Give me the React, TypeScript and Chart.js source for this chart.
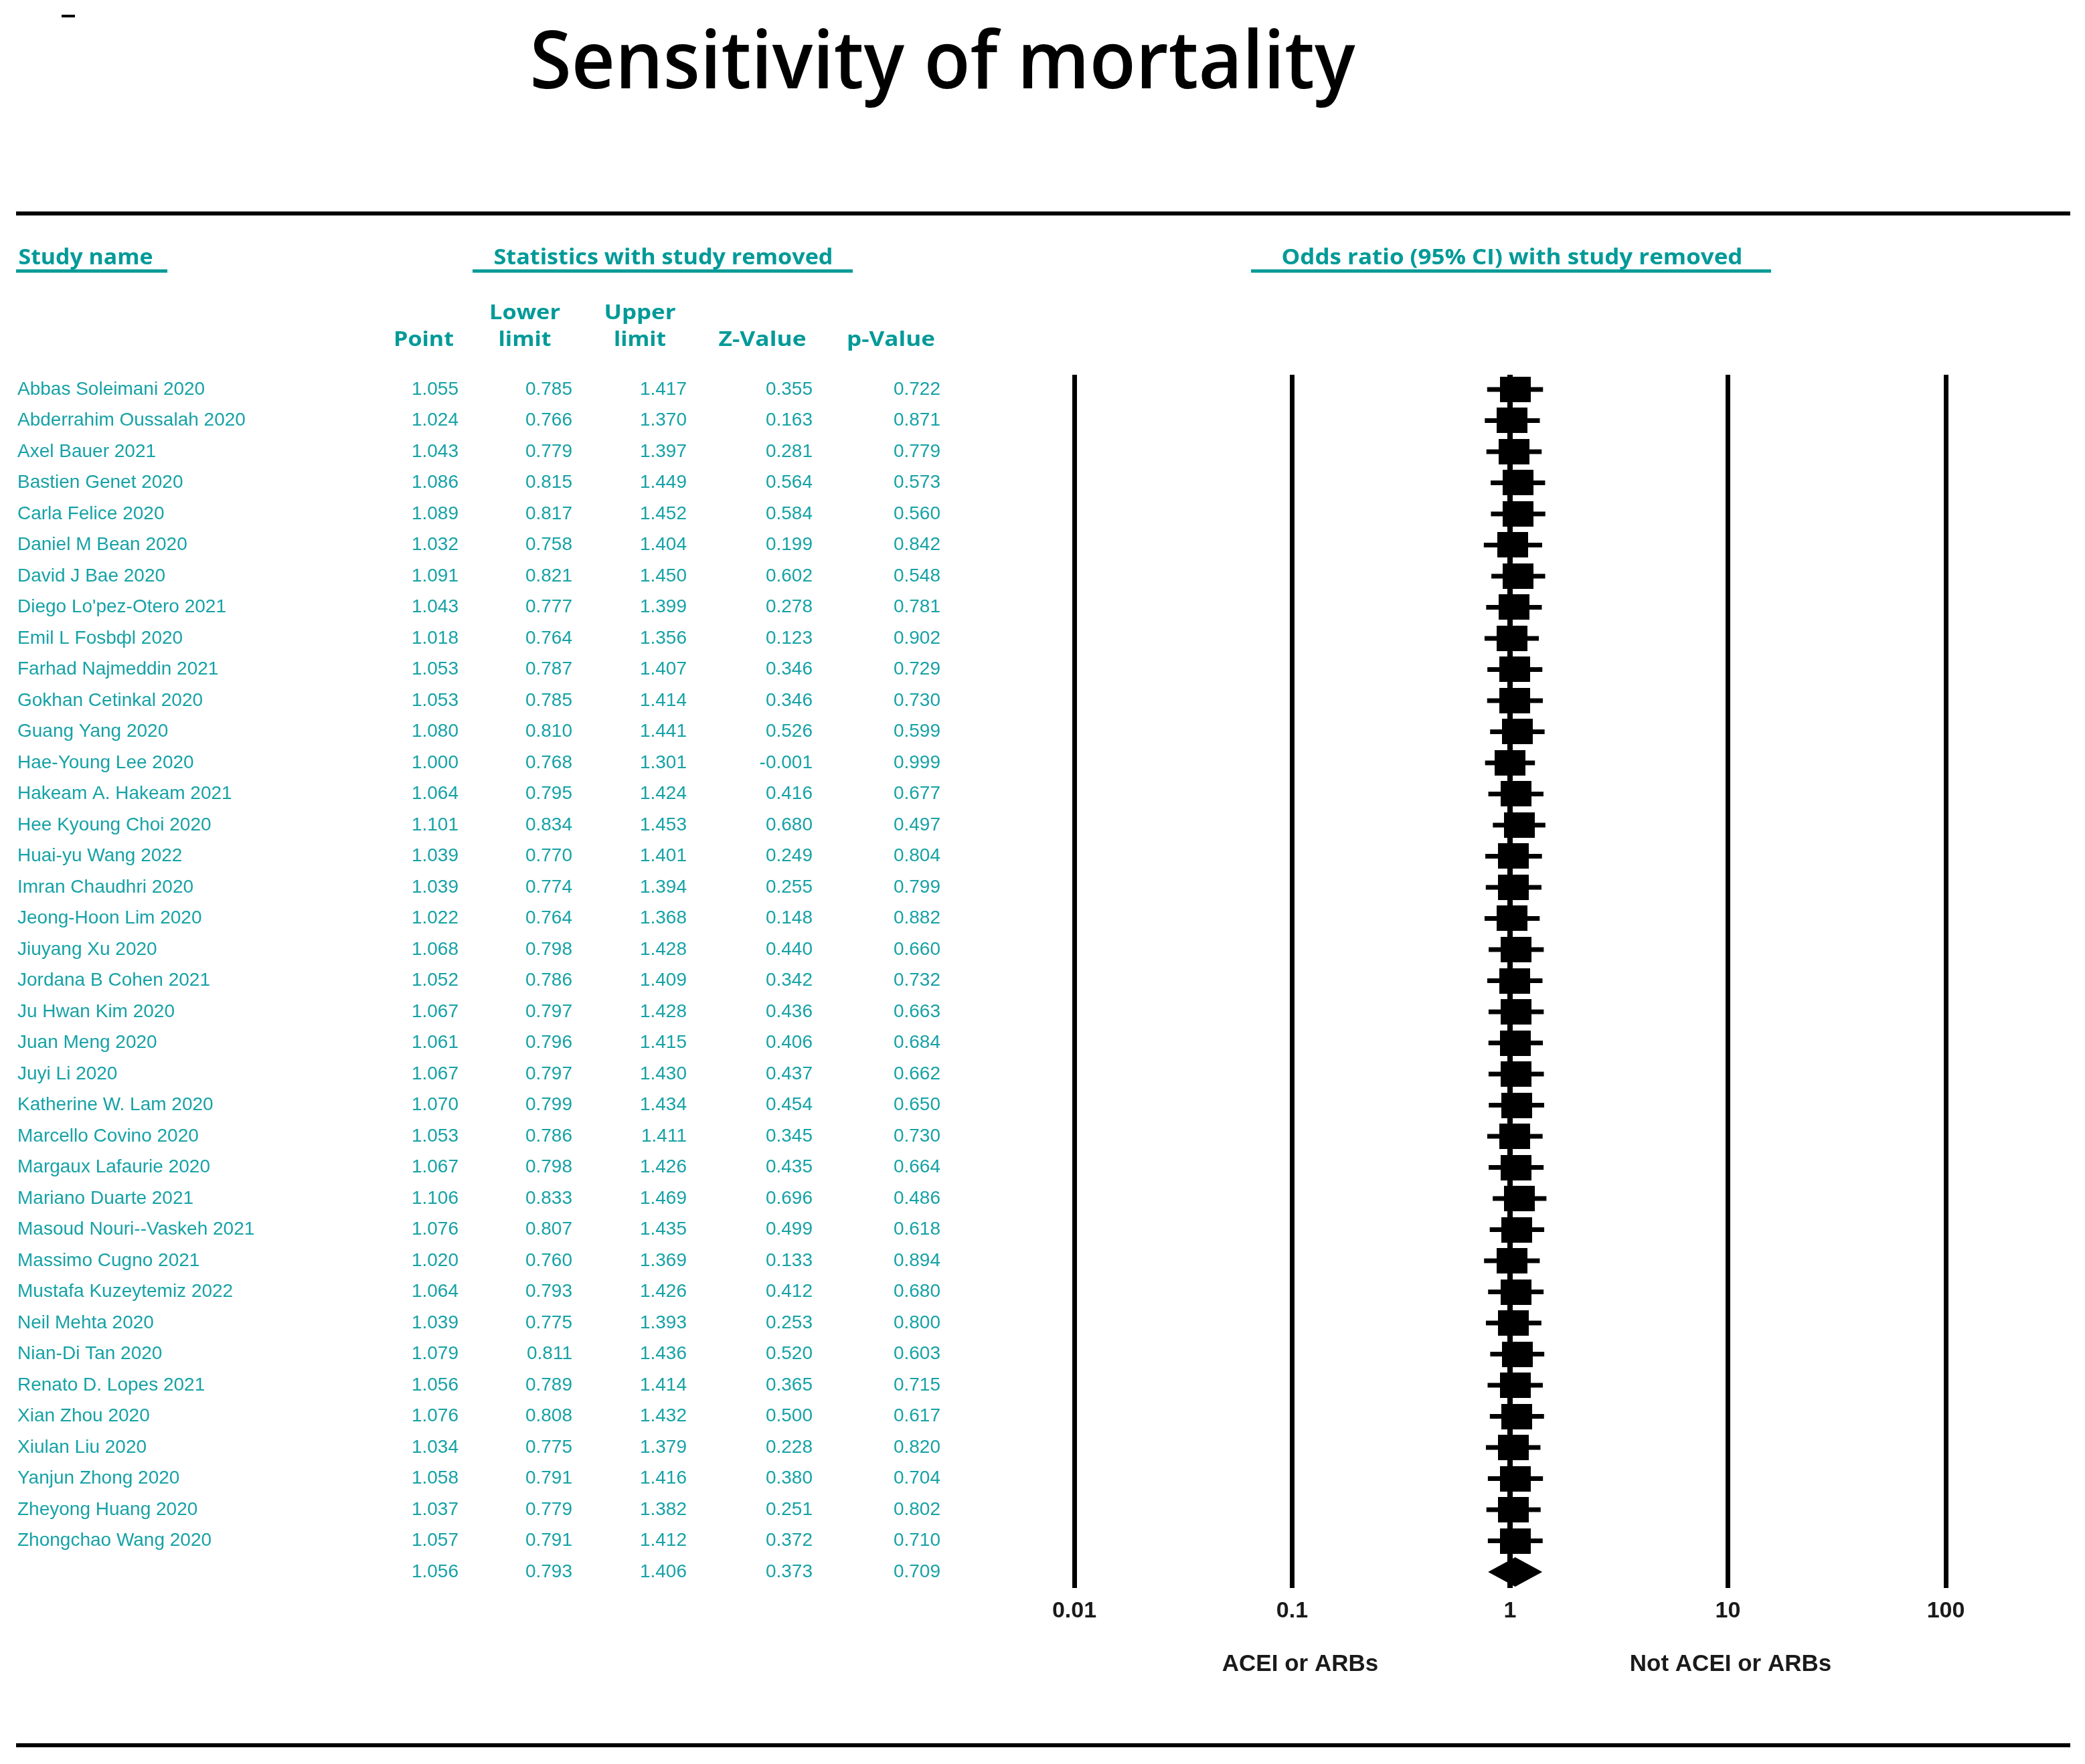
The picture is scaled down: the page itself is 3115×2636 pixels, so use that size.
import React, { useEffect, useRef } from "react";
import { Chart, registerables } from "chart.js";

Chart.register(...registerables);

const W = 3115;
const H = 2636;

const studyNames = [
  "Abbas Soleimani 2020",
  "Abderrahim Oussalah 2020",
  "Axel Bauer 2021",
  "Bastien Genet 2020",
  "Carla Felice 2020",
  "Daniel M Bean 2020",
  "David J Bae 2020",
  "Diego Lo'pez-Otero 2021",
  "Emil L Fosbфl 2020",
  "Farhad Najmeddin 2021",
  "Gokhan Cetinkal 2020",
  "Guang Yang 2020",
  "Hae-Young Lee 2020",
  "Hakeam A. Hakeam 2021",
  "Hee Kyoung Choi 2020",
  "Huai-yu Wang 2022",
  "Imran Chaudhri 2020",
  "Jeong-Hoon Lim 2020",
  "Jiuyang Xu 2020",
  "Jordana B Cohen 2021",
  "Ju Hwan Kim 2020",
  "Juan Meng 2020",
  "Juyi Li 2020",
  "Katherine W. Lam 2020",
  "Marcello Covino 2020",
  "Margaux Lafaurie 2020",
  "Mariano Duarte 2021",
  "Masoud Nouri--Vaskeh 2021",
  "Massimo Cugno 2021",
  "Mustafa Kuzeytemiz 2022",
  "Neil Mehta 2020",
  "Nian-Di Tan 2020",
  "Renato D. Lopes 2021",
  "Xian Zhou 2020",
  "Xiulan Liu 2020",
  "Yanjun Zhong 2020",
  "Zheyong Huang 2020",
  "Zhongchao Wang 2020",
];

const pointValues = [
  1.055, 1.024, 1.043, 1.086, 1.089, 1.032, 1.091, 1.043, 1.018, 1.053,
  1.053, 1.08, 1.0, 1.064, 1.101, 1.039, 1.039, 1.022, 1.068, 1.052,
  1.067, 1.061, 1.067, 1.07, 1.053, 1.067, 1.106, 1.076, 1.02, 1.064,
  1.039, 1.079, 1.056, 1.076, 1.034, 1.058, 1.037, 1.057,
];

const lowerLimits = [
  0.785, 0.766, 0.779, 0.815, 0.817, 0.758, 0.821, 0.777, 0.764, 0.787,
  0.785, 0.81, 0.768, 0.795, 0.834, 0.77, 0.774, 0.764, 0.798, 0.786,
  0.797, 0.796, 0.797, 0.799, 0.786, 0.798, 0.833, 0.807, 0.76, 0.793,
  0.775, 0.811, 0.789, 0.808, 0.775, 0.791, 0.779, 0.791,
];

const upperLimits = [
  1.417, 1.37, 1.397, 1.449, 1.452, 1.404, 1.45, 1.399, 1.356, 1.407,
  1.414, 1.441, 1.301, 1.424, 1.453, 1.401, 1.394, 1.368, 1.428, 1.409,
  1.428, 1.415, 1.43, 1.434, 1.411, 1.426, 1.469, 1.435, 1.369, 1.426,
  1.393, 1.436, 1.414, 1.432, 1.379, 1.416, 1.382, 1.412,
];

const zValues = [
  0.355, 0.163, 0.281, 0.564, 0.584, 0.199, 0.602, 0.278, 0.123, 0.346,
  0.346, 0.526, -0.001, 0.416, 0.68, 0.249, 0.255, 0.148, 0.44, 0.342,
  0.436, 0.406, 0.437, 0.454, 0.345, 0.435, 0.696, 0.499, 0.133, 0.412,
  0.253, 0.52, 0.365, 0.5, 0.228, 0.38, 0.251, 0.372,
];

const pValues = [
  0.722, 0.871, 0.779, 0.573, 0.56, 0.842, 0.548, 0.781, 0.902, 0.729,
  0.73, 0.599, 0.999, 0.677, 0.497, 0.804, 0.799, 0.882, 0.66, 0.732,
  0.663, 0.684, 0.662, 0.65, 0.73, 0.664, 0.486, 0.618, 0.894, 0.68,
  0.8, 0.603, 0.715, 0.617, 0.82, 0.704, 0.802, 0.71,
];

const summaryPoint = 1.056;
const summaryLower = 0.793;
const summaryUpper = 1.406;
const summaryZ = 0.373;
const summaryP = 0.709;

const axisTicks = [0.01, 0.1, 1, 10, 100];
const axisTickLabels = ["0.01", "0.1", "1", "10", "100"];
const favoursLabels = ["ACEI or ARBs", "Not ACEI or ARBs"];
const favoursAt = [0.1, 10];

const titleText = "Sensitivity of mortality";
const groupHeaders = [
  "Study name",
  "Statistics with study removed",
  "Odds ratio (95% CI) with study removed",
];
const columnTop = ["", "Lower", "Upper", "", ""];
const columnBottom = ["Point", "limit", "limit", "Z-Value", "p-Value"];

const TEAL = "#009a98";
const DATA_TEAL = "#17a2a6";

function drawText(
  ctx: CanvasRenderingContext2D,
  text: string,
  x: number,
  y: number,
  size: number,
  weight: string,
  family: string,
  color: string,
  align: CanvasTextAlign,
  width?: number,
  baseline: CanvasTextBaseline = "alphabetic"
) {
  ctx.save();
  ctx.font = `${weight} ${size}px ${family}`;
  ctx.fillStyle = color;
  ctx.textBaseline = baseline;
  ctx.textAlign = align;
  const w = ctx.measureText(text).width;
  const sx = width ? width / w : 1;
  ctx.translate(x, y);
  ctx.scale(sx, 1);
  ctx.fillText(text, 0, 0);
  ctx.restore();
}

function hline(ctx: CanvasRenderingContext2D, x1: number, x2: number, y: number, lw: number, color: string) {
  ctx.save();
  ctx.strokeStyle = color;
  ctx.lineWidth = lw;
  ctx.beginPath();
  ctx.moveTo(x1, y);
  ctx.lineTo(x2, y);
  ctx.stroke();
  ctx.restore();
}

const forestPlugin = {
  id: "forest",
  beforeDatasetsDraw(chart: any) {
    const { ctx, scales } = chart;
    const xs = scales.x;
    const ys = scales.y;
    ctx.save();
    ctx.strokeStyle = "#000";
    ctx.lineWidth = 7;
    for (let i = 0; i < pointValues.length; i++) {
      const y = ys.getPixelForValue(i);
      ctx.beginPath();
      ctx.moveTo(xs.getPixelForValue(lowerLimits[i]), y);
      ctx.lineTo(xs.getPixelForValue(upperLimits[i]), y);
      ctx.stroke();
    }
    ctx.restore();
  },
  afterDatasetsDraw(chart: any) {
    const { ctx, scales } = chart;
    const xs = scales.x;
    const ys = scales.y;
    const yc = ys.getPixelForValue(pointValues.length);
    const xl = xs.getPixelForValue(summaryLower);
    const xp = xs.getPixelForValue(summaryPoint);
    const xu = xs.getPixelForValue(summaryUpper);
    ctx.save();
    ctx.fillStyle = "#000";
    ctx.beginPath();
    ctx.moveTo(xl, yc);
    ctx.lineTo(xp, yc - 22);
    ctx.lineTo(xu, yc);
    ctx.lineTo(xp, yc + 22);
    ctx.closePath();
    ctx.fill();
    ctx.restore();
  },
  afterDraw(chart: any) {
    const { ctx, scales } = chart;
    const xs = scales.x;
    const ys = scales.y;

    // small mark at top-left
    ctx.save();
    ctx.fillStyle = "#000";
    ctx.fillRect(92, 22, 20, 4);
    ctx.restore();

    // title
    drawText(ctx, titleText, 1408, 132, 120, "600", "'Open Sans'", "#000", "center", 1233);

    // rules
    hline(ctx, 24, 3093, 319, 6, "#000");
    hline(ctx, 24, 3093, 2608, 6, "#000");

    // group headers
    const gh = [
      { cx: 128, w: 201, ux1: 24, ux2: 250 },
      { cx: 991, w: 507, ux1: 706, ux2: 1274 },
      { cx: 2259, w: 689, ux1: 1869, ux2: 2646 },
    ];
    groupHeaders.forEach((t, i) => {
      drawText(ctx, t, gh[i].cx, 395, 32, "700", "'Open Sans'", TEAL, "center", gh[i].w);
      hline(ctx, gh[i].ux1, gh[i].ux2, 405, 5, TEAL);
    });

    // column headers
    const colCenters = [633, 784, 956, 1139, 1331];
    const topW = [0, 106, 107, 0, 0];
    const botW = [90, 79, 78, 131, 132];
    columnTop.forEach((t, i) => {
      if (t) drawText(ctx, t, colCenters[i], 477, 31, "700", "'Open Sans'", TEAL, "center", topW[i]);
    });
    columnBottom.forEach((t, i) => {
      drawText(ctx, t, colCenters[i], 517, 31, "700", "'Open Sans'", TEAL, "center", botW[i]);
    });

    // table rows
    const rightEdges = [685, 855, 1026, 1214, 1405];
    const fam = "'Liberation Sans', Arial";
    const n = pointValues.length;
    for (let i = 0; i <= n; i++) {
      const y = ys.getPixelForValue(i);
      const vals =
        i < n
          ? [pointValues[i], lowerLimits[i], upperLimits[i], zValues[i], pValues[i]]
          : [summaryPoint, summaryLower, summaryUpper, summaryZ, summaryP];
      if (i < n) drawText(ctx, studyNames[i], 26, y, 28, "400", fam, DATA_TEAL, "left", undefined, "middle");
      vals.forEach((v, j) => {
        drawText(ctx, v.toFixed(3), rightEdges[j], y, 28, "400", fam, DATA_TEAL, "right", undefined, "middle");
      });
    }

    // axis tick labels
    axisTicks.forEach((v, i) => {
      drawText(ctx, axisTickLabels[i], xs.getPixelForValue(v), 2408, 34, "700", "'Liberation Sans', Arial", "#1a1a1a", "center", undefined, "middle");
    });
    const favOffsets = [12, 4];
    favoursLabels.forEach((t, i) => {
      drawText(ctx, t, xs.getPixelForValue(favoursAt[i]) + favOffsets[i], 2487, 35, "700", "'Liberation Sans', Arial", "#1a1a1a", "center", undefined, "middle");
    });
  },
};

export default function App() {
  const ref = useRef<HTMLCanvasElement | null>(null);

  useEffect(() => {
    const canvas = ref.current;
    if (!canvas) return;
    const marker = document.createElement("canvas");
    marker.width = 46;
    marker.height = 38;
    const mctx = marker.getContext("2d");
    if (mctx) {
      mctx.fillStyle = "#000";
      mctx.fillRect(0, 0, 46, 38);
    }

    const chart = new Chart(canvas, {
      type: "scatter",
      data: {
        datasets: [
          {
            label: "Odds ratio",
            data: pointValues.map((v, i) => ({ x: v, y: i })),
            pointStyle: marker as any,
            pointRadius: 22,
            backgroundColor: "#000",
            borderColor: "#000",
          },
        ],
      },
      plugins: [forestPlugin],
      options: {
        animation: false,
        responsive: false,
        devicePixelRatio: 1,
        events: [],
        layout: { padding: { left: 1605, right: W - 2907, top: 560, bottom: H - 2373 } },
        plugins: { legend: { display: false }, tooltip: { enabled: false } },
        scales: {
          x: {
            type: "logarithmic",
            min: 0.01,
            max: 100,
            afterBuildTicks: (scale: any) => {
              scale.ticks = axisTicks.map((v) => ({ value: v }));
            },
            ticks: { display: false },
            grid: {
              color: "#000",
              lineWidth: (c: any) => (c.tick && c.tick.value === 1 ? 8 : 7),
              drawTicks: false,
            },
            border: { display: false },
          },
          y: {
            type: "linear",
            reverse: true,
            min: -0.473,
            max: 38.516,
            display: false,
          },
        },
      },
    });
    return () => chart.destroy();
  }, []);

  return (
    <canvas
      ref={ref}
      width={W}
      height={H}
      style={{ position: "absolute", left: 0, top: 0, width: W, height: H, background: "#fff" }}
    />
  );
}
